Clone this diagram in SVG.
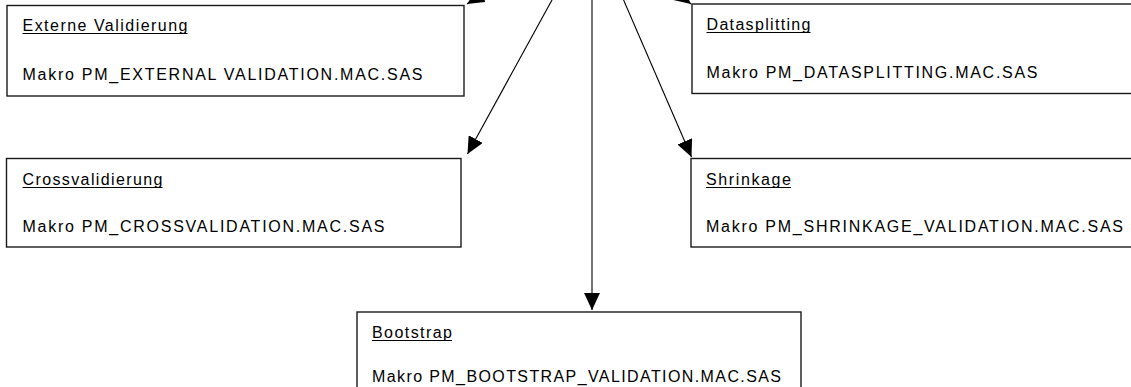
<svg xmlns="http://www.w3.org/2000/svg" width="1131" height="387" viewBox="0 0 1131 387">
<style>
  .box { fill: #ffffff; stroke: #1a1a1a; stroke-width: 1.4; }
  .t { font-family: "Liberation Sans", Arial, sans-serif; font-size: 16px; fill: #000; }
  .ul { stroke: #000; stroke-width: 1; }
  .conn { stroke: #000; stroke-width: 1.1; fill: none; marker-end: url(#arr); }
</style>
<defs>
  <marker id="arr" markerUnits="userSpaceOnUse" markerWidth="18" markerHeight="16" refX="17" refY="8" orient="auto">
    <path d="M0,0 L17,8 L0,16 z" fill="#000"/>
  </marker>
</defs>
<rect width="1131" height="387" fill="#ffffff"/>

<g id="connectors">
  <line class="conn" x1="592" y1="-73" x2="467" y2="4"/>
  <line class="conn" x1="592" y1="-73" x2="691" y2="4"/>
  <line class="conn" x1="592" y1="-73" x2="467.5" y2="154"/>
  <line class="conn" x1="592" y1="-73" x2="592" y2="310"/>
  <line class="conn" x1="592" y1="-73" x2="691.5" y2="157"/>
</g>

<g id="externe">
  <rect class="box" x="7" y="5.5" width="457" height="90.5"/>
  <text class="t" x="22.5" y="30.5" textLength="165" lengthAdjust="spacing">Externe Validierung</text>
  <line class="ul" x1="22.5" y1="33.5" x2="187.5" y2="33.5"/>
  <text class="t" x="22.5" y="79.5" textLength="400" lengthAdjust="spacing">Makro PM_EXTERNAL VALIDATION.MAC.SAS</text>
</g>

<g id="datasplitting">
  <rect class="box" x="692" y="4" width="460" height="89.5"/>
  <text class="t" x="706.5" y="29.5" textLength="104" lengthAdjust="spacing">Datasplitting</text>
  <line class="ul" x1="706.5" y1="32.5" x2="810.5" y2="32.5"/>
  <text class="t" x="706.5" y="78" textLength="331" lengthAdjust="spacing">Makro PM_DATASPLITTING.MAC.SAS</text>
</g>

<g id="crossvalidierung">
  <rect class="box" x="6.5" y="158.5" width="454.5" height="88.5"/>
  <text class="t" x="22.5" y="184.5" textLength="140" lengthAdjust="spacing">Crossvalidierung</text>
  <line class="ul" x1="22.5" y1="187.5" x2="162.5" y2="187.5"/>
  <text class="t" x="22.5" y="232" textLength="362" lengthAdjust="spacing">Makro PM_CROSSVALIDATION.MAC.SAS</text>
</g>

<g id="shrinkage">
  <rect class="box" x="691" y="158.5" width="460" height="88.5"/>
  <text class="t" x="706" y="184.5" textLength="85" lengthAdjust="spacing">Shrinkage</text>
  <line class="ul" x1="706" y1="187.5" x2="791" y2="187.5"/>
  <text class="t" x="706" y="232" textLength="417" lengthAdjust="spacing">Makro PM_SHRINKAGE_VALIDATION.MAC.SAS</text>
</g>

<g id="bootstrap">
  <rect class="box" x="357" y="312" width="444" height="90"/>
  <text class="t" x="372" y="337.5" textLength="80" lengthAdjust="spacing">Bootstrap</text>
  <line class="ul" x1="372" y1="340.5" x2="452" y2="340.5"/>
  <text class="t" x="372" y="382" textLength="409" lengthAdjust="spacing">Makro PM_BOOTSTRAP_VALIDATION.MAC.SAS</text>
</g>
</svg>
